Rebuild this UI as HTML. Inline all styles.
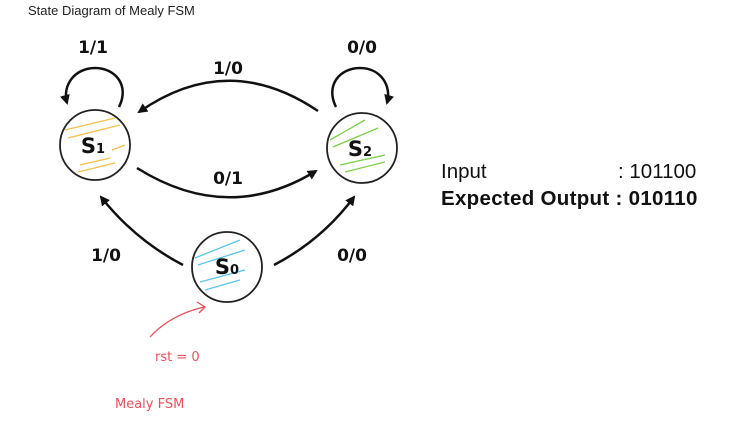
<!DOCTYPE html>
<html><head><meta charset="utf-8"><style>
body{margin:0;background:#fff;width:731px;height:423px;overflow:hidden;font-family:"Liberation Sans",sans-serif}
.t{position:absolute}
</style></head><body>
<div class="t" style="left:28px;top:3px;font-size:13px;color:#222">State Diagram of Mealy FSM</div>
<svg width="731" height="423" style="position:absolute;left:0;top:0">
<defs><marker id="ah" markerWidth="10" markerHeight="10" refX="8" refY="5" orient="auto" markerUnits="userSpaceOnUse"><path d="M0,0 L10,5 L0,10 Z" fill="#111"/></marker></defs>
<g fill="none" stroke="#111" stroke-width="2.5" marker-end="url(#ah)">
<path d="M318,111 Q228,50 139,112"/>
<path d="M137,168 Q228,225 316,171"/>
<path d="M119,107 C130,85 115,68 95,68 C75,68 62,85 67,103"/>
<path d="M336,107 C325,85 340,68 360,68 C380,68 392,85 387,103"/>
<path d="M183,265 Q135,240 101,197"/>
<path d="M274,265 Q322,240 354,197"/>
</g>
<g stroke="#f5c04a" stroke-width="1.3">
<line x1="65" y1="130" x2="115" y2="118"/><line x1="68" y1="138" x2="120" y2="125"/><line x1="80" y1="165" x2="110" y2="158"/><line x1="78" y1="172" x2="115" y2="163"/><line x1="112" y1="150" x2="125" y2="145"/>
</g>
<g stroke="#7ccf4a" stroke-width="1.3">
<line x1="330" y1="140" x2="365" y2="120"/><line x1="333" y1="147" x2="378" y2="128"/><line x1="340" y1="165" x2="385" y2="155"/><line x1="345" y1="172" x2="385" y2="162"/>
</g>
<g stroke="#5cc4ec" stroke-width="1.3">
<line x1="195" y1="258" x2="240" y2="240"/><line x1="198" y1="265" x2="245" y2="250"/><line x1="200" y1="282" x2="245" y2="270"/><line x1="205" y1="290" x2="240" y2="280"/>
</g>
<g fill="none" stroke="#222" stroke-width="1.8">
<circle cx="95" cy="145" r="35"/>
<circle cx="362" cy="148" r="35"/>
<circle cx="227" cy="267" r="35"/>
</g>
<g font-family="DejaVu Sans, sans-serif" font-weight="bold" fill="#111" text-anchor="middle">
<text x="93" y="153" font-size="21">S<tspan font-size="13">1</tspan></text>
<text x="360" y="156" font-size="21">S<tspan font-size="13">2</tspan></text>
<text x="227" y="274" font-size="21">S<tspan font-size="13">0</tspan></text>
<g font-size="17">
<text x="93" y="53">1/1</text>
<text x="362" y="53">0/0</text>
<text x="228" y="74">1/0</text>
<text x="228" y="184">0/1</text>
<text x="106" y="261">1/0</text>
<text x="352" y="261">0/0</text>
</g></g>
<g stroke="#e8505a" fill="none" stroke-width="1.3">
<path d="M150,337 Q170,315 204,307"/><path d="M197,302 L205,307 L199,313"/>
</g>
<g fill="#e8505a" font-family="DejaVu Sans, sans-serif" font-size="13">
<text x="155" y="361">rst = 0</text>
<text x="115" y="408">Mealy FSM</text>
</g>
</svg>
<div class="t" style="left:441px;top:160px;font-size:20.5px;color:#111">Input</div>
<div class="t" style="left:618px;top:160px;font-size:20.5px;color:#111">: 101100</div>
<div class="t" style="left:441px;top:187px;font-size:20.5px;font-weight:bold;color:#111;letter-spacing:0.3px">Expected Output : 010110</div>
</body></html>
